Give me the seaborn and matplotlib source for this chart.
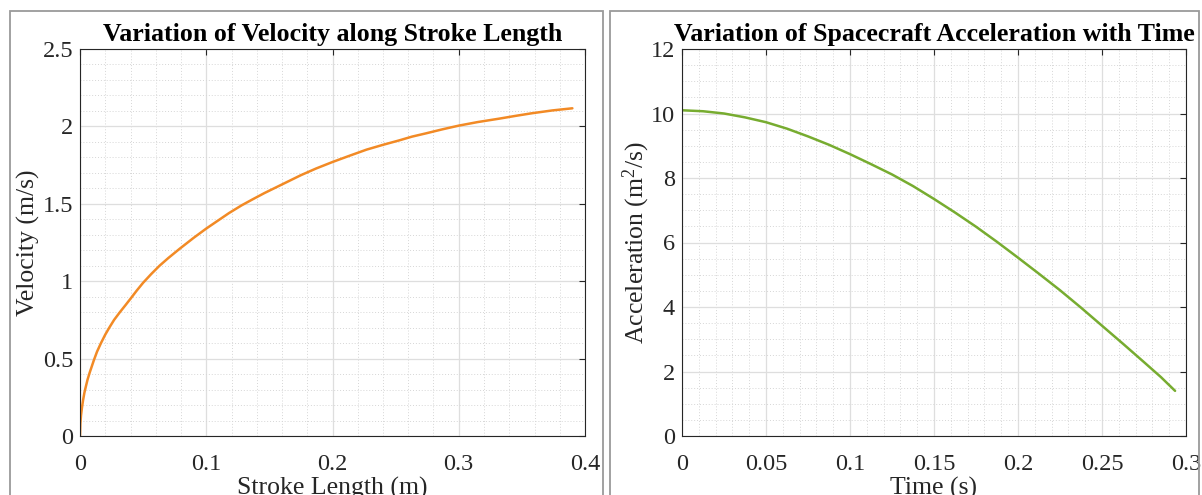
import matplotlib
matplotlib.use("Agg")
import matplotlib.pyplot as plt
import seaborn as sns
import pandas as pd
from matplotlib.patches import Rectangle
from matplotlib.ticker import MultipleLocator

# ---- data ----
stroke_length = [0, 0.0003, 0.0008, 0.0015, 0.0024, 0.0035, 0.0045, 0.006, 0.0077,
                 0.011, 0.0135, 0.0166, 0.02, 0.0232, 0.027, 0.0316, 0.036, 0.0403,
                 0.045, 0.05, 0.0565, 0.063, 0.07, 0.079, 0.09, 0.1, 0.109, 0.118,
                 0.128, 0.137, 0.146, 0.155, 0.165, 0.175, 0.187, 0.2, 0.213, 0.227,
                 0.24, 0.253, 0.263, 0.274, 0.287, 0.3, 0.315, 0.332, 0.345, 0.358,
                 0.374, 0.39]
velocity = [0, 0.082, 0.133, 0.18, 0.23, 0.28, 0.315, 0.365, 0.41,
            0.49, 0.545, 0.60, 0.655, 0.70, 0.75, 0.80, 0.845, 0.89,
            0.94, 0.99, 1.047, 1.10, 1.15, 1.21, 1.28, 1.34, 1.39, 1.44,
            1.49, 1.53, 1.569, 1.605, 1.645, 1.685, 1.728, 1.77, 1.809, 1.85,
            1.881, 1.91, 1.934, 1.955, 1.981, 2.005, 2.028, 2.05, 2.068, 2.085,
            2.103, 2.117]

time_s = [0, 0.0125, 0.025, 0.0375, 0.05, 0.0625, 0.075, 0.0875, 0.1, 0.1125, 0.125,
          0.1375, 0.15, 0.1625, 0.175, 0.1875, 0.2, 0.2125, 0.225, 0.2375, 0.25,
          0.2625, 0.275, 0.285, 0.2935]
acceleration = [10.1, 10.07, 10.0, 9.88, 9.73, 9.53, 9.29, 9.03, 8.74, 8.43, 8.11,
                7.75, 7.35, 6.93, 6.49, 6.02, 5.53, 5.03, 4.52, 3.98, 3.42,
                2.86, 2.29, 1.83, 1.40]

left_xticks = [0, 0.1, 0.2, 0.3, 0.4]
left_yticks = [0, 0.5, 1, 1.5, 2, 2.5]
right_xticks = [0, 0.05, 0.1, 0.15, 0.2, 0.25, 0.3]
right_yticks = [0, 2, 4, 6, 8, 10, 12]

sns.set_theme(style="white")
plt.rcParams["font.family"] = ["Liberation Serif", "DejaVu Serif"]
plt.rcParams["mathtext.fontset"] = "custom"
plt.rcParams["mathtext.rm"] = "Liberation Serif"
plt.rcParams["mathtext.default"] = "regular"

W, H = 1202, 495
fig = plt.figure(figsize=(W / 100, H / 100), dpi=100)
fig.patch.set_facecolor("white")

# panel frames
for x0, x1 in [(10, 603), (610, 1199)]:
    fig.add_artist(Rectangle((x0 / W, -0.2), (x1 - x0) / W, (H - 11) / H + 0.2,
                             transform=fig.transFigure, fill=False,
                             edgecolor="#9a9a9a", linewidth=1.3))

ax1 = fig.add_axes([80 / W, (H - 436) / H, (585 - 80) / W, (436 - 49) / H])
ax2 = fig.add_axes([682 / W, (H - 436) / H, (1186 - 682) / W, (436 - 49) / H])

df1 = pd.DataFrame({"x": stroke_length, "y": velocity})
df2 = pd.DataFrame({"x": time_s, "y": acceleration})
sns.lineplot(data=df1, x="x", y="y", ax=ax1, color="#F28A25", linewidth=1.8,
             sort=False, solid_joinstyle="round")
sns.lineplot(data=df2, x="x", y="y", ax=ax2, color="#77AC30", linewidth=1.8,
             sort=False, solid_joinstyle="round")


def fmt(v):
    return f"{v:g}"


def style(ax, xt, yt, xminor, yminor, title, xlabel, ylabel, ylabelpad):
    ax.set_xlim(xt[0], xt[-1])
    ax.set_ylim(yt[0], yt[-1])
    ax.set_xticks(xt)
    ax.set_yticks(yt)
    ax.set_xticklabels([fmt(v) for v in xt])
    ax.set_yticklabels([fmt(v) for v in yt])
    ax.xaxis.set_minor_locator(MultipleLocator(xminor))
    ax.yaxis.set_minor_locator(MultipleLocator(yminor))
    ax.grid(which="major", color="#dedede", linewidth=0.9, linestyle="-")
    ax.grid(which="minor", color="#d6d6d6", linewidth=0.7, linestyle=(0, (1, 2)))
    ax.set_axisbelow(True)
    ax.tick_params(which="major", direction="in", length=4, width=0.8,
                   color="#262626", top=True, right=True, labelsize=17.5,
                   labelcolor="#262626")
    ax.tick_params(axis="x", which="major", pad=13)
    ax.tick_params(axis="y", which="major", pad=5)
    ax.tick_params(which="minor", length=0, top=True, right=True)
    for sp in ax.spines.values():
        sp.set_color("#262626")
        sp.set_linewidth(0.8)
    ax.set_title(title, fontsize=18.6, fontweight="bold", pad=6, color="black")
    ax.set_xlabel(xlabel, fontsize=18.5, color="#262626", labelpad=1)
    ax.set_ylabel(ylabel, fontsize=18.5, color="#262626", labelpad=ylabelpad)
    ax.set_facecolor("white")


style(ax1, left_xticks, left_yticks, 0.02, 0.1,
      "Variation of Velocity along Stroke Length", "Stroke Length (m)",
      "Velocity (m/s)", 2)
style(ax2, right_xticks, right_yticks, 0.01, 0.5,
      "Variation of Spacecraft Acceleration with Time", "Time (s)",
      "Acceleration (m$^2$/s)", -1)

fig.savefig("out.png", dpi=100, facecolor="white")
